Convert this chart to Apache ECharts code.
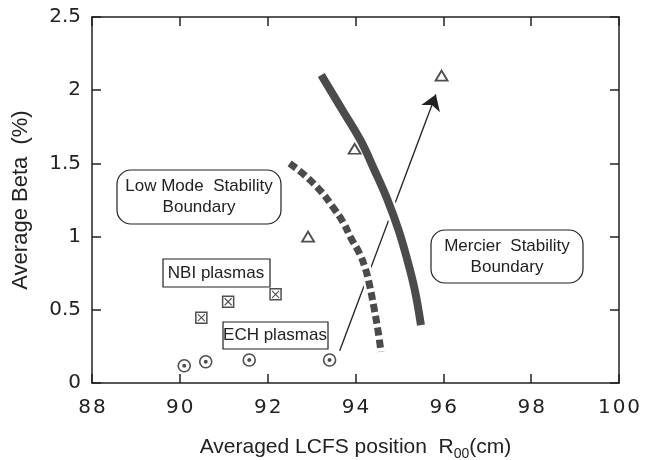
<!DOCTYPE html>
<html>
<head>
<meta charset="utf-8">
<script src="https://cdn.jsdelivr.net/npm/echarts@6/dist/echarts.min.js"></script>
<style>
html,body{margin:0;padding:0;background:#fff}
#main{width:652px;height:460px}
</style>
</head>
<body>
<div id="main"></div>
<script>
// values
var mercierR = [93.22, 93.70, 94.11, 94.43, 94.73, 94.98, 95.18, 95.35, 95.49];
var mercierBeta = [2.104, 1.865, 1.660, 1.455, 1.250, 1.045, 0.840, 0.635, 0.396];
var lowModeR = [92.50, 92.84, 93.22, 93.48, 93.71, 93.90, 94.09, 94.22, 94.32, 94.43, 94.51, 94.58];
var lowModeBeta = [1.50, 1.42, 1.307, 1.204, 1.102, 0.988, 0.886, 0.786, 0.669, 0.499, 0.362, 0.214];
var nbiR = [90.49, 91.10, 92.18];
var nbiBeta = [0.446, 0.555, 0.606];
var echR = [90.10, 90.59, 91.58, 93.41];
var echBeta = [0.118, 0.145, 0.157, 0.157];
var triR = [92.92, 93.98, 95.96];
var triBeta = [1.00, 1.60, 2.10];
var arrowR = [93.64, 95.83];
var arrowBeta = [0.22, 1.97];

function pairs(xs, ys){
    var out = [];
    for (var i = 0; i < xs.length; i++) out.push([xs[i], ys[i]]);
    return out;
}

var ink = '#222';
var curveColor = '#4b4b4b';
var tickFamily = 'DejaVu Sans';
var nameFont = 'Liberation Sans';

var myChart = echarts.init(document.getElementById('main'), null, {renderer:'canvas'});

// mirrored frame axes (top / right) carry only inward ticks
function frameAxis(pos, isX){
    return {
        type:'value',
        position:pos,
        min: isX ? 88 : 0,
        max: isX ? 100 : 2.5,
        interval: isX ? 2 : 0.5,
        axisLine:{show:true, onZero:false, lineStyle:{color:ink, width:1.5}},
        axisTick:{show:true, inside:true, length:9, lineStyle:{color:ink, width:1.5}},
        axisLabel:{show:false},
        splitLine:{show:false}
    };
}

var option = {
    backgroundColor:'#fff',
    animation:false,
    grid:{left:92, right:33, top:17, bottom:77, containLabel:false, outerBoundsMode:'none'},
    xAxis:[
        {
            type:'value',
            position:'bottom',
            min:88, max:100, interval:2,
            name:'Averaged LCFS position  R{sub|00}(cm)',
            nameLocation:'middle',
            nameGap:50,
            nameTextStyle:{
                fontFamily:nameFont, fontSize:21, color:ink,
                rich:{sub:{fontFamily:nameFont, fontSize:14, color:ink, padding:[14,0,0,0]}}
            },
            axisLine:{show:true, onZero:false, lineStyle:{color:ink, width:1.5}},
            axisTick:{show:true, inside:true, length:9, lineStyle:{color:ink, width:1.5}},
            axisLabel:{show:true, margin:15, fontFamily:tickFamily, fontSize:20, color:ink,
                formatter:function(v){ return String(v).split('').join('\u200a'); }},
            splitLine:{show:false}
        },
        frameAxis('top', true)
    ],
    yAxis:[
        {
            type:'value',
            position:'left',
            min:0, max:2.5, interval:0.5,
            name:'Average Beta  (%)',
            nameLocation:'middle',
            nameGap:60,
            nameTextStyle:{fontFamily:nameFont, fontSize:22, color:ink},
            axisLine:{show:true, onZero:false, lineStyle:{color:ink, width:1.5}},
            axisTick:{show:true, inside:true, length:9, lineStyle:{color:ink, width:1.5}},
            axisLabel:{show:true, margin:11, fontFamily:tickFamily, fontSize:20, color:ink},
            splitLine:{show:false}
        },
        frameAxis('right', false)
    ],
    series:[
        {
            // arrow
            type:'lines',
            coordinateSystem:'cartesian2d',
            z:1,
            silent:true,
            symbol:['none','arrow'],
            symbolSize:[7,15],
            lineStyle:{color:ink, width:1.3, opacity:1},
            data:[{coords:pairs(arrowR, arrowBeta)}]
        },
        {
            type:'line', z:2, silent:true, symbol:'none', smooth:0.4,
            lineStyle:{color:'#fff', width:13},
            data:pairs(mercierR, mercierBeta)
        },
        {
            type:'line', z:2, silent:true, symbol:'none', smooth:0.4,
            lineStyle:{color:'#fff', width:12},
            data:pairs(lowModeR, lowModeBeta)
        },
        {
            name:'Mercier',
            type:'line', z:3, symbol:'none', smooth:0.4,
            lineStyle:{color:curveColor, width:8, cap:'butt'},
            data:pairs(mercierR, mercierBeta)
        },
        {
            name:'Low Mode',
            type:'line', z:3, symbol:'none', smooth:0.4,
            lineStyle:{color:curveColor, width:7, type:[8,4], cap:'butt'},
            data:pairs(lowModeR, lowModeBeta)
        },
        {
            name:'triangles',
            type:'scatter', z:5,
            symbol:'triangle', symbolSize:[12,10],
            itemStyle:{color:'#fff', borderColor:ink, borderWidth:1.8},
            data:pairs(triR, triBeta)
        },
        {
            name:'NBI',
            type:'scatter', z:5,
            symbol:'rect', symbolSize:11,
            itemStyle:{color:'#fff', borderColor:ink, borderWidth:1.5},
            data:pairs(nbiR, nbiBeta)
        },
        {
            name:'NBI cross',
            type:'scatter', z:6,
            symbol:'path://M0,0L10,10M10,0L0,10', symbolSize:7,
            itemStyle:{color:'rgba(0,0,0,0)', borderColor:ink, borderWidth:1.1},
            data:pairs(nbiR, nbiBeta)
        },
        {
            name:'ECH',
            type:'scatter', z:5,
            symbol:'circle', symbolSize:12,
            itemStyle:{color:'#fff', borderColor:ink, borderWidth:1.6},
            data:pairs(echR, echBeta)
        },
        {
            name:'ECH dot',
            type:'scatter', z:6,
            symbol:'circle', symbolSize:4,
            itemStyle:{color:ink},
            data:pairs(echR, echBeta)
        }
    ],
    graphic:[
        {type:'rect', shape:{x:117, y:170, width:164, height:54, r:14}, style:{fill:'#fff', stroke:ink, lineWidth:1.2}, z:10},
        {type:'text', x:199, y:197, style:{text:'Low Mode  Stability\nBoundary', align:'center', verticalAlign:'middle', fontFamily:nameFont, fontSize:17, lineHeight:21, fill:ink}, z:11},
        {type:'rect', shape:{x:431, y:230, width:152, height:53, r:14}, style:{fill:'#fff', stroke:ink, lineWidth:1.2}, z:10},
        {type:'text', x:507, y:257, style:{text:'Mercier  Stability\nBoundary', align:'center', verticalAlign:'middle', fontFamily:nameFont, fontSize:17, lineHeight:21, fill:ink}, z:11},
        {type:'rect', shape:{x:163, y:259, width:107, height:28}, style:{fill:'#fff', stroke:ink, lineWidth:1.2}, z:10},
        {type:'text', x:216, y:273, style:{text:'NBI plasmas', align:'center', verticalAlign:'middle', fontFamily:nameFont, fontSize:17, fill:ink}, z:11},
        {type:'rect', shape:{x:223, y:322, width:105, height:27}, style:{fill:'#fff', stroke:ink, lineWidth:1.2}, z:10},
        {type:'text', x:275, y:335, style:{text:'ECH plasmas', align:'center', verticalAlign:'middle', fontFamily:nameFont, fontSize:17, fill:ink}, z:11}
    ]
};

myChart.setOption(option);
</script>
</body>
</html>
